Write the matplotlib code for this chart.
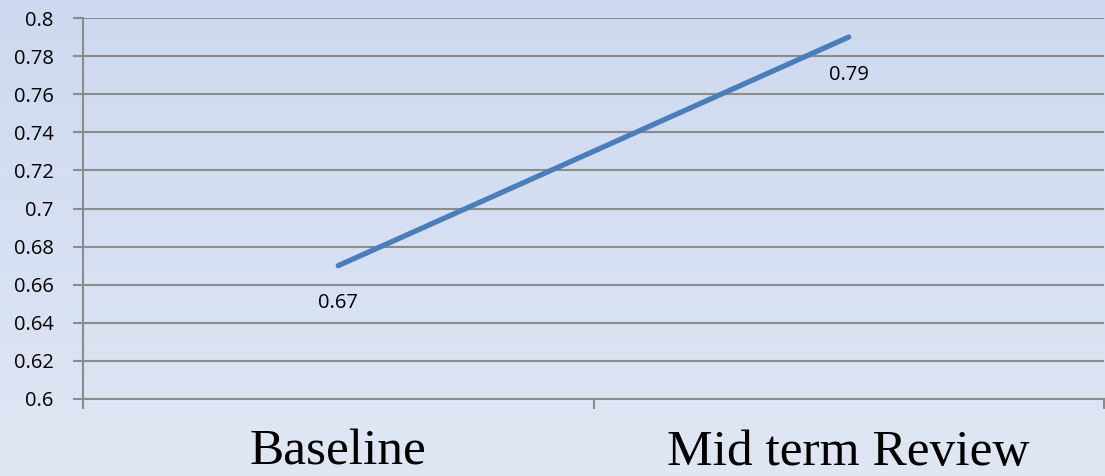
import numpy as np
import matplotlib
matplotlib.use('Agg')
import matplotlib.pyplot as plt

# chart values
categories = ['Baseline', 'Mid term Review']
values = [0.67, 0.79]
value_labels = ['0.67', '0.79']
y_ticks = [0.6, 0.62, 0.64, 0.66, 0.68, 0.7, 0.72, 0.74, 0.76, 0.78, 0.8]
y_tick_labels = ['0.6', '0.62', '0.64', '0.66', '0.68', '0.7', '0.72', '0.74', '0.76', '0.78', '0.8']

fig = plt.figure(figsize=(11.05, 4.76), dpi=100)

# soft blue gradient background
bg = fig.add_axes([0, 0, 1, 1])
grad = np.linspace(0, 1, 256).reshape(-1, 1)
top = np.array([205, 217, 240]) / 255
bottom = np.array([224, 231, 244]) / 255
img = top + (bottom - top) * grad[:, :, None]
bg.imshow(img, aspect='auto', extent=[0, 1, 0, 1])
bg.axis('off')

ax = fig.add_axes([83 / 1105, 1 - 399 / 476, 1021 / 1105, 381 / 476])
ax.patch.set_alpha(0)

x = np.arange(len(categories)) + 0.5
ax.plot(x, values, color='#4A7EBB', lw=3.8, solid_capstyle='round', zorder=3)

# data labels sit centred under each point
for xi, v, lab in zip(x, values, value_labels):
    ax.annotate(lab, (xi, v), xytext=(0, -27), textcoords='offset points',
                ha='center', va='center', fontsize=14.5, family='Open Sans', color='black')

ax.set_xlim(0, len(categories))
ax.set_ylim(0.6, 0.8)
ax.set_yticks(y_ticks)
ax.set_yticklabels(y_tick_labels, fontsize=14.5, family='Open Sans')
ax.yaxis.grid(True, color='#8C8C8C', lw=1.5)
ax.set_axisbelow(True)

ax.set_xticks(np.arange(len(categories) + 1))
ax.set_xticklabels([])
ax.tick_params(axis='x', length=7, width=1.5, color='#8C8C8C', direction='out')
ax.tick_params(axis='y', length=7, width=1.5, color='#8C8C8C', direction='out', pad=14)

for s in ['top', 'right']:
    ax.spines[s].set_visible(False)
for s in ['left', 'bottom']:
    ax.spines[s].set_color('#8C8C8C')
    ax.spines[s].set_linewidth(1.5)

for xi, c in zip(x, categories):
    ax.text(xi, -0.173, c, transform=ax.get_xaxis_transform(), ha='center', va='baseline',
            fontsize=37, family='Liberation Serif', color='black')

plt.savefig('out.png', dpi=100)
